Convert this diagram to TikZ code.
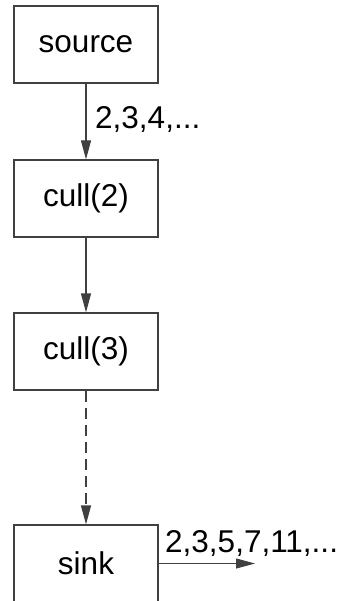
\documentclass[tikz,border=0pt]{standalone}
\usepackage{fontspec}
\setmainfont{Liberation Sans}
\usetikzlibrary{arrows.meta}
\begin{document}
\begin{tikzpicture}[x=1pt,y=-1pt,
  stagebox/.style={draw=black!75,line width=1.2pt,rectangle,minimum width=144pt,minimum height=77pt,inner sep=0pt,font=\fontsize{31.5}{36}\selectfont},
  flow/.style={draw=black!75,line width=1.2pt,-{Triangle[length=19pt,width=10pt]}},
  lbl/.style={inner sep=0pt,font=\fontsize{31.5}{36}\selectfont}]
\useasboundingbox (0,0) rectangle (344,601);
\begin{scope}
\clip (0,0) rectangle (344,601);
\node[stagebox] (source) at (86,44.5) {source};
\node[stagebox] (cull2) at (86,198.5) {cull(2)};
\node[stagebox] (cull3) at (86,351.5) {cull(3)};
\node[stagebox] (sink) at (86,563.5) {sink};
\coordinate (out) at (255,563.5);
\draw[flow] (source) -- (cull2);
\draw[flow] (cull2) -- (cull3);
\draw[flow,dash pattern=on 11pt off 6pt] (cull3) -- (sink);
\draw[flow,line width=1pt] (sink) -- (out);
\node[lbl,anchor=base west] (l1) at (95,129) {2,3,4,...};
\node[lbl,anchor=base west] (l2) at (165,552) {2,3,5,7,11,...};
\end{scope}
\end{tikzpicture}
\end{document}
